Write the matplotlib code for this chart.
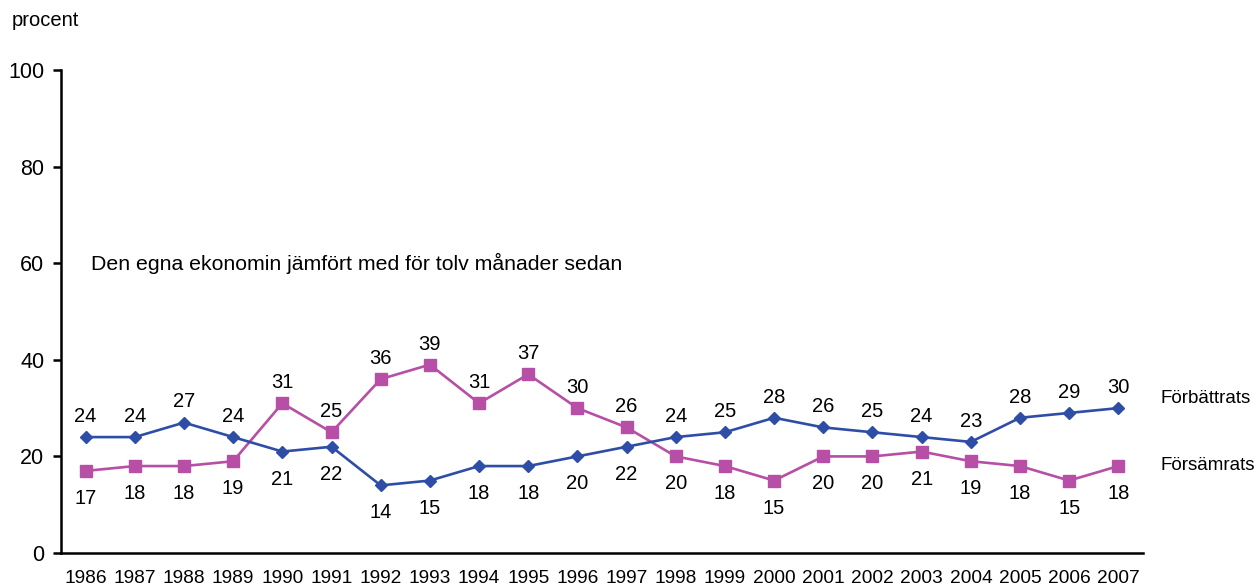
import matplotlib.pyplot as plt

plt.rcParams['font.family'] = ['Liberation Sans', 'DejaVu Sans']

years = list(range(1986, 2008))
forbattrats = [24, 24, 27, 24, 21, 22, 14, 15, 18, 18, 20, 22, 24, 25, 28, 26, 25, 24, 23, 28, 29, 30]
forsamrats = [17, 18, 18, 19, 31, 25, 36, 39, 31, 37, 30, 26, 20, 18, 15, 20, 20, 21, 19, 18, 15, 18]

blue = "#2E4DA7"
magenta = "#B64FA5"

fig = plt.figure(figsize=(12.56, 5.88), dpi=100)
ax = fig.add_axes([0.0486, 0.0595, 0.8614, 0.8215])

ax.plot(years, forsamrats, color=magenta, marker="s", markersize=8.5, linewidth=1.9)
ax.plot(years, forbattrats, color=blue, marker="D", markersize=6.5, linewidth=1.9)

# etiketter: över för den högre serien, under för den lägre
for x, b, m in zip(years, forbattrats, forsamrats):
    if b >= m:
        ax.annotate(str(b), (x, b), xytext=(0, 8), textcoords="offset points",
                    ha="center", va="bottom", fontsize=14.5)
        ax.annotate(str(m), (x, m), xytext=(0, -13), textcoords="offset points",
                    ha="center", va="top", fontsize=14.5)
    else:
        ax.annotate(str(m), (x, m), xytext=(0, 8), textcoords="offset points",
                    ha="center", va="bottom", fontsize=14.5)
        ax.annotate(str(b), (x, b), xytext=(0, -13), textcoords="offset points",
                    ha="center", va="top", fontsize=14.5)

ax.set_xlim(1985.5, 2007.5)
ax.set_ylim(0, 100)
ax.set_yticks([0, 20, 40, 60, 80, 100])
ax.set_xticks(years)
ax.set_xticklabels([str(y) for y in years])
ax.tick_params(axis="y", length=6, width=1.8, labelsize=15.5, pad=6)
ax.tick_params(axis="x", length=0, labelsize=13.8, pad=12)
for s in ["top", "right"]:
    ax.spines[s].set_visible(False)
ax.spines["left"].set_linewidth(1.8)
ax.spines["bottom"].set_linewidth(1.8)

ax.text(1986.1, 60, "Den egna ekonomin jämfört med för tolv månader sedan",
        fontsize=15.3, va="center", ha="left")
ax.text(2007.85, 32, "Förbättrats", fontsize=13.5, va="center", ha="left", clip_on=False)
ax.text(2007.85, 18.2, "Försämrats", fontsize=13.5, va="center", ha="left", clip_on=False)
fig.text(12 / 1256, 1 - 20 / 588, "procent", fontsize=14.5, va="center", ha="left")

fig.savefig("out.png", dpi=100)
